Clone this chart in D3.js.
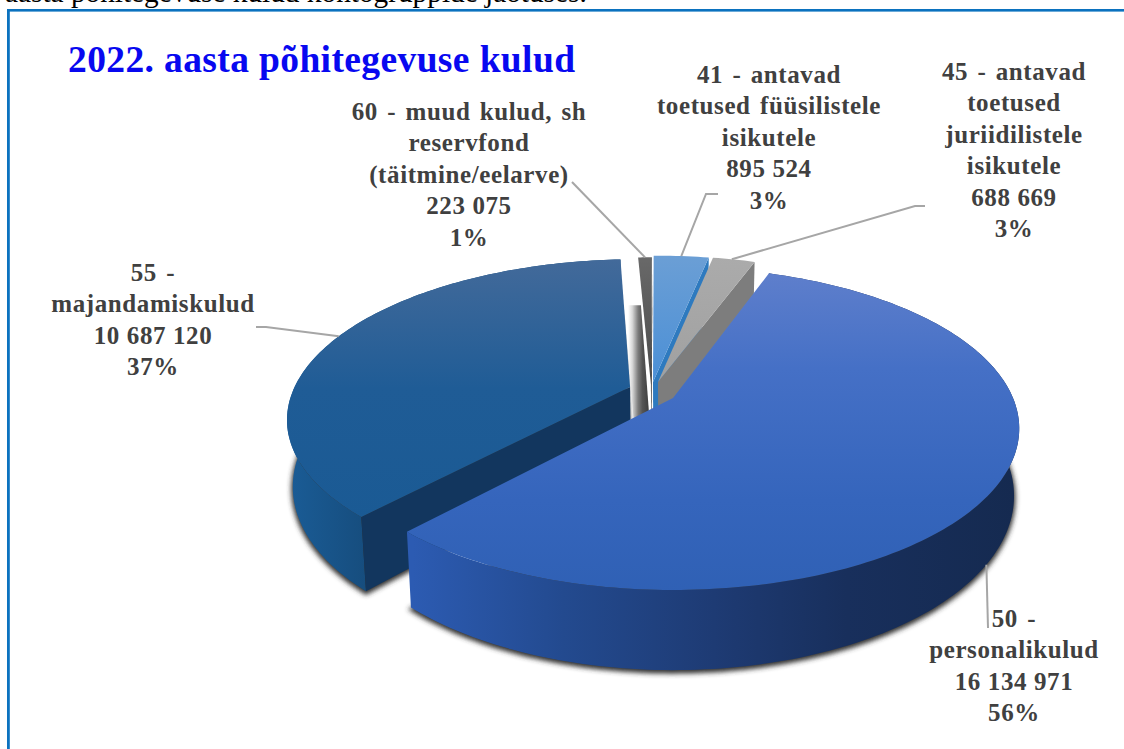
<!DOCTYPE html>
<html><head><meta charset="utf-8">
<script src="https://cdn.jsdelivr.net/npm/d3@7/dist/d3.min.js"></script>
<style>html,body{margin:0;padding:0;background:#fff;overflow:hidden}svg{display:block}
text{font-family:"Liberation Serif",serif}</style></head><body>
<svg id="c" width="1124" height="749"></svg>
<script>
// ---- data ----
const codes = ["41","45","50","55","60"];
const values = [895524, 688669, 16134971, 10687120, 223075];
const valueLabels = ["895 524","688 669","16 134 971","10 687 120","223 075"];
const percentLabels = ["3%","3%","56%","37%","1%"];
const nameLines = [
  ["41 - antavad","toetused füüsilistele","isikutele"],
  ["45 - antavad","toetused","juriidilistele","isikutele"],
  ["50 -","personalikulud"],
  ["55 -","majandamiskulud"],
  ["60 - muud kulud, sh","reservfond","(täitmine/eelarve)"]
];
const chartTitle = "2022. aasta põhitegevuse kulud";
const pageHeading = "aasta põhitegevuse kulud kontogruppide jaotuses.";

// ---- layout ----
const svg = d3.select("#c");
const W = 1124, H = 749;
const ox = 673, oy = 398, Rp = 340, Ap = 155.7, k = 0.189, depth = 65, wallShrink = 0.985;
const startDeg = -0.5;
const shift = [[-0.06,-0.105],[-0.045,-0.104],[0,0],[-0.128,-0.072],[-0.066,-0.09]];
const labelX = [769,1014,1014,153,469];
const labelY0 = [83,80,627,281,120];
const lineGap = 31.4;
const leaders = [
  {i:0, a:[718,194], b:[706,194], frac:0.5},
  {i:1, a:[925,206], b:[915,206], frac:0.45},
  {i:2, a:[988,628], b:null, frac:0.51, wall:true},
  {i:3, a:[256,327], b:[266,327], frac:0.51},
  {i:4, a:[572,182], b:null, frac:0.5}
];

const pie = d3.pie().sort(null).value(d=>d)
  .startAngle(startDeg*Math.PI/180).endAngle(startDeg*Math.PI/180+2*Math.PI);
const arcs = pie(values);

function plane(i,ang,r=1){const s=shift[i];return [s[0]+r*Math.sin(ang), s[1]-r*Math.cos(ang)];}
function topP([u,v]){const d=1-k*v;return [ox+Rp*u/d, oy+Ap*v/d];}
function botP([u,v]){const p=topP([u,v]);return [ox+(p[0]-ox)*wallShrink, p[1]+depth/(1-k*v)];}
const line = d3.line();
function arcPts(i,f,a0,a1){const n=Math.max(6,Math.ceil((a1-a0)/0.02));
  return d3.range(n+1).map(j=>f(plane(i,a0+(a1-a0)*j/n)));}
const apex=(i,f)=>f(plane(i,0,0));

// ---- gradients ----
const defs = svg.append("defs");
function grad(id,x1,y1,x2,y2,stops){
  const g=defs.append("linearGradient").attr("id",id).attr("gradientUnits","userSpaceOnUse")
    .attr("x1",x1).attr("y1",y1).attr("x2",x2).attr("y2",y2);
  stops.forEach(s=>g.append("stop").attr("offset",s[0]).attr("stop-color",s[1]));
}
grad("topBig",0,270,0,600,[[0,"#5f7fcc"],[0.3,"#4570c6"],[0.7,"#3565bc"],[1,"#2f60b4"]]);
grad("wallBig",413,0,1015,0,[[0,"#2c5bb2"],[0.25,"#234a8f"],[0.5,"#1e3b74"],[0.72,"#182f5c"],[1,"#152a50"]]);
grad("top55",0,258,0,520,[[0,"#436a9a"],[0.5,"#1f5c96"],[1,"#1a5a94"]]);
grad("wall55",288,0,372,0,[[0,"#1a5c96"],[1,"#164c7c"]]);
grad("top41",0,252,0,385,[[0,"#6c9fd5"],[1,"#4a8fd6"]]);
grad("top45",0,255,0,385,[[0,"#ababab"],[1,"#a0a0a0"]]);
grad("top60",0,252,0,385,[[0,"#6a6a6a"],[1,"#4a4a4a"]]);
grad("strip",628,0,652,0,[[0,"#ffffff"],[0.18,"#d8d8d8"],[0.42,"#7c7c7c"],[0.6,"#555"],[1,"#333"]]);
const blur=defs.append("filter").attr("id","soft").attr("x","-10%").attr("y","-10%").attr("width","120%").attr("height","125%");
blur.append("feGaussianBlur").attr("stdDeviation",2.6);

// ---- frame and headings ----
svg.append("rect").attr("x",7).attr("y",9).attr("width",W-7).attr("height",2.6).attr("fill","#0b72bf");
svg.append("rect").attr("x",7).attr("y",9).attr("width",2.8).attr("height",H-9).attr("fill","#0b72bf");
svg.append("text").attr("x",5).attr("y",2).attr("font-size",29.3).attr("fill","#000").text(pageHeading);
svg.append("text").attr("x",68).attr("y",72).attr("font-size",37.5).attr("font-weight",700)
  .attr("fill","#0808f0").attr("textLength",507).text(chartTitle);

// ---- pie ----
const g = svg.append("g");
function wallPath(i){const a=arcs[i];
  const t=arcPts(i,topP,a.startAngle,a.endAngle), b=arcPts(i,botP,a.startAngle,a.endAngle).reverse();
  return line(t.concat(b))+"Z";}
function topPath(i){const a=arcs[i];
  return line([apex(i,topP)].concat(arcPts(i,topP,a.startAngle,a.endAngle)))+"Z";}
function cutPath(i,ang){const pT=topP(plane(i,ang)),pB=botP(plane(i,ang));
  return line([apex(i,topP),pT,pB,apex(i,botP)])+"Z";}
function shadow(i){const a=arcs[i];
  g.append("path").attr("d",line([apex(i,botP)].concat(arcPts(i,botP,a.startAngle,a.endAngle)))+"Z")
  .attr("fill","#333").attr("stroke","#333")
  .attr("stroke-width",3).attr("transform","translate(0,2)").attr("filter","url(#soft)");}

shadow(3); shadow(2);

// slice 55
g.append("path").attr("d",wallPath(3)).attr("fill","url(#wall55)");
g.append("path").attr("d",cutPath(3,arcs[3].startAngle)).attr("fill","#12365e");
// reflective inner wall between the 55 and the small slices
const e0=topP(plane(3,arcs[3].endAngle,0.6)), eB=apex(3,botP), e1=apex(4,botP);
g.append("path").attr("d",line([e0,[e0[0]+17,e0[1]],[e1[0],e1[1]-5],[eB[0]+3,eB[1]-30]])+"Z").attr("fill","url(#strip)");
g.append("path").attr("d",topPath(3)).attr("fill","url(#top55)");

// slice 60
g.append("path").attr("d",cutPath(4,arcs[4].endAngle)).attr("fill","#262626");
g.append("path").attr("d",topPath(4)).attr("fill","url(#top60)");
// slice 41
g.append("path").attr("d",cutPath(0,arcs[0].endAngle)).attr("fill","#2e7abf");
g.append("path").attr("d",topPath(0)).attr("fill","url(#top41)");
// slice 45
g.append("path").attr("d",cutPath(1,arcs[1].endAngle)).attr("fill","#7d7d7d");
g.append("path").attr("d",topPath(1)).attr("fill","url(#top45)");
// slice 50
g.append("path").attr("d",wallPath(2)).attr("fill","url(#wallBig)");
g.append("path").attr("d",topPath(2)).attr("fill","url(#topBig)");

// ---- leaders ----
leaders.forEach(l=>{
  const a=arcs[l.i], ang=a.startAngle+(a.endAngle-a.startAngle)*l.frac;
  const end=(l.wall?botP:topP)(plane(l.i,ang));
  const pts=[l.a].concat(l.b?[l.b]:[]).concat([end]);
  g.append("path").attr("d",line(pts)).attr("fill","none").attr("stroke","#a6a6a6").attr("stroke-width",2);
});

// ---- labels ----
codes.forEach((c,i)=>{
  const t=svg.append("text").attr("text-anchor","middle").attr("font-size",25).attr("font-weight",700)
    .attr("fill","#404040").attr("letter-spacing",0.6);
  nameLines[i].forEach((s,j)=>t.append("tspan").attr("x",labelX[i]).attr("y",labelY0[i]+j*lineGap)
    .attr("word-spacing",2.5).text(s));
  const n=nameLines[i].length;
  [valueLabels[i],percentLabels[i]].forEach((s,j)=>t.append("tspan").attr("x",labelX[i])
    .attr("y",labelY0[i]+(n+j)*lineGap).text(s));
});
</script></body></html>
